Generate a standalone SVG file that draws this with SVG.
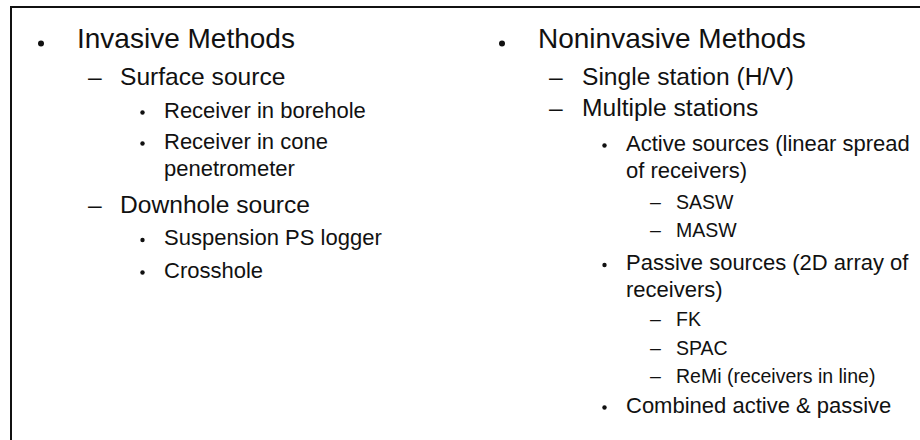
<svg xmlns="http://www.w3.org/2000/svg" width="920" height="440" viewBox="0 0 920 440">
<style>
text{font-family:"Liberation Sans",Arial,sans-serif;fill:#111}
.l1{font-size:28px}
.l2{font-size:24.6px}
.l3{font-size:22px}
.l4{font-size:19.5px}
.b{fill:#111}
.frame{fill:none;stroke:#111;stroke-width:2}
</style>
<rect width="920" height="440" fill="#fff"/>
<path class="frame" d="M11,441 V7 H921"/>
<g id="invasive">
<circle class="b" cx="41" cy="43.5" r="3"/>
<text class="l1" x="77" y="47.5">Invasive Methods</text>
</g>
<g id="surface-source">
<text class="l2" x="88" y="84.5">–</text>
<text class="l2" x="120" y="84.5">Surface source</text>
</g>
<g id="receiver-borehole">
<circle class="b" cx="142.5" cy="112.5" r="2.2"/>
<text class="l3" x="164" y="117.5">Receiver in borehole</text>
</g>
<g id="receiver-cone">
<circle class="b" cx="142.5" cy="143.5" r="2.2"/>
<text class="l3" x="164" y="148.5">Receiver in cone</text>
<text class="l3" x="164" y="176">penetrometer</text>
</g>
<g id="downhole-source">
<text class="l2" x="88" y="213">–</text>
<text class="l2" x="120" y="213">Downhole source</text>
</g>
<g id="suspension">
<circle class="b" cx="142.5" cy="240" r="2.2"/>
<text class="l3" x="164" y="245">Suspension PS logger</text>
</g>
<g id="crosshole">
<circle class="b" cx="142.5" cy="272.5" r="2.2"/>
<text class="l3" x="164" y="277.5">Crosshole</text>
</g>
<g id="noninvasive">
<circle class="b" cx="502" cy="43.5" r="3"/>
<text class="l1" x="538" y="47.5">Noninvasive Methods</text>
</g>
<g id="single-station">
<text class="l2" x="549" y="84.5">–</text>
<text class="l2" x="582" y="84.5">Single station (H/V)</text>
</g>
<g id="multiple-stations">
<text class="l2" x="549" y="116">–</text>
<text class="l2" x="582" y="116">Multiple stations</text>
</g>
<g id="active-sources">
<circle class="b" cx="604.5" cy="145.5" r="2.2"/>
<text class="l3" x="626" y="150.5">Active sources (linear spread</text>
<text class="l3" x="626" y="178">of receivers)</text>
</g>
<g id="sasw">
<text class="l4" x="650" y="208.5">–</text>
<text class="l4" x="676" y="208.5">SASW</text>
</g>
<g id="masw">
<text class="l4" x="650" y="237">–</text>
<text class="l4" x="676" y="237">MASW</text>
</g>
<g id="passive-sources">
<circle class="b" cx="604.5" cy="265" r="2.2"/>
<text class="l3" x="626" y="270">Passive sources (2D array of</text>
<text class="l3" x="626" y="297">receivers)</text>
</g>
<g id="fk">
<text class="l4" x="650" y="326">–</text>
<text class="l4" x="676" y="326">FK</text>
</g>
<g id="spac">
<text class="l4" x="650" y="355">–</text>
<text class="l4" x="676" y="355">SPAC</text>
</g>
<g id="remi">
<text class="l4" x="650" y="382.5">–</text>
<text class="l4" x="676" y="382.5">ReMi (receivers in line)</text>
</g>
<g id="combined">
<circle class="b" cx="604.5" cy="407.5" r="2.2"/>
<text class="l3" x="626" y="412.5">Combined active &amp; passive</text>
</g>
<g id="connectors"/>
</svg>
